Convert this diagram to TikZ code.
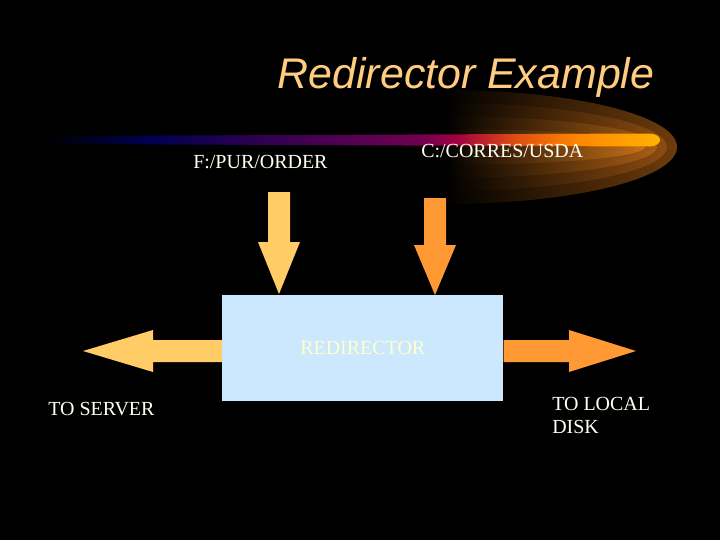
\documentclass[tikz,border=0pt]{standalone}
\usepackage{fontspec}
\setmainfont{Liberation Serif}
\newfontfamily\titlefont{Liberation Sans}
\usetikzlibrary{positioning}

\definecolor{lightorange}{HTML}{FFCC66}
\definecolor{deeporange}{HTML}{FF9933}
\definecolor{boxblue}{HTML}{CCE8FF}
\definecolor{paleyellow}{HTML}{FFFFCC}
\definecolor{offwhite}{HTML}{FFFFF2}
\definecolor{titleorange}{HTML}{FFCC80}
\definecolor{haloa}{HTML}{6E3C0C}
\definecolor{halob}{HTML}{8C4C10}
\definecolor{haloc}{HTML}{AA5E14}
\definecolor{halod}{HTML}{C87018}
\definecolor{cnavy}{HTML}{000050}
\definecolor{cpurple}{HTML}{400050}
\definecolor{cmagenta}{HTML}{700050}
\definecolor{ccrimson}{HTML}{A00040}
\definecolor{cred}{HTML}{E05010}
\definecolor{corange}{HTML}{FF8800}
\definecolor{cgold}{HTML}{FFB300}
\pgfdeclarehorizontalshading{comet}{100bp}{color(0bp)=(black); color(25bp)=(black);
  color(33.5bp)=(cnavy); color(46bp)=(cpurple); color(55.5bp)=(cmagenta);
  color(58.5bp)=(ccrimson); color(63.5bp)=(cred); color(68.5bp)=(corange);
  color(75bp)=(cgold); color(100bp)=(cgold)}

\begin{document}
\begin{tikzpicture}[x=0.025cm,y=0.025cm,
  lbl/.style={text=offwhite,font=\fontsize{14.2}{16.4}\selectfont,inner sep=0pt}]
\fill[black](0,0) rectangle (720,-540);
\useasboundingbox (0,0) rectangle (720,-540);

% glow behind the streak
\shade[left color=black,middle color=haloa,right color=haloa](445,-90) arc(90:-90:232 and 57)--cycle;
\shade[left color=black,middle color=halob,right color=halob](445,-103) arc(90:-90:222 and 44)--cycle;
\shade[left color=black,middle color=haloc,right color=haloc](445,-116) arc(90:-90:212 and 31)--cycle;
\shade[left color=black,middle color=halod,right color=halod](445,-129) arc(90:-90:200 and 18)--cycle;
\shade[shading=comet](43,-136)--(650,-133.5)..controls(657,-134)and(660,-137)..(660,-140)
  ..controls(660,-143)and(657,-146)..(650,-146.5)--(43,-144)--cycle;

\node[anchor=base,text=titleorange,inner sep=0pt,
  font=\titlefont\itshape\fontsize{30.5}{36}\selectfont](title) at (466,-88){Redirector Example};

\node[lbl,anchor=base west](fpath) at (193,-168){F:/PUR/ORDER};
\node[lbl,anchor=base west](cpath) at (421,-157){C:/CORRES/USDA};

\node[fill=boxblue,minimum width=7.025cm,minimum height=2.65cm,inner sep=0pt,
  text=paleyellow,font=\fontsize{14.2}{16.4}\selectfont](redir) at (362.75,-348){REDIRECTOR};

% arrows into the box
\fill[lightorange](268,-192)--(290,-192)--(290,-242)--(300,-242)--(279,-294)--(258,-242)--(268,-242)--cycle;
\fill[deeporange](424,-198)--(446,-198)--(446,-245)--(456,-245)--(435,-295)--(414,-245)--(424,-245)--cycle;
% arrows out of the box
\fill[lightorange](redir.west|-0,-340)--(153,-340)--(153,-330)--(83,-351)--(153,-372)--(153,-362)--(redir.west|-0,-362)--cycle;
\fill[deeporange](redir.east|-0,-340)--(569,-340)--(569,-330)--(636,-351)--(569,-372)--(569,-362)--(redir.east|-0,-362)--cycle;

\node[lbl,anchor=base west](server) at (48,-415){TO SERVER};
\node[lbl,anchor=north west,align=left](disk) at (552,-396.8){TO LOCAL\\DISK};
\end{tikzpicture}
\end{document}
